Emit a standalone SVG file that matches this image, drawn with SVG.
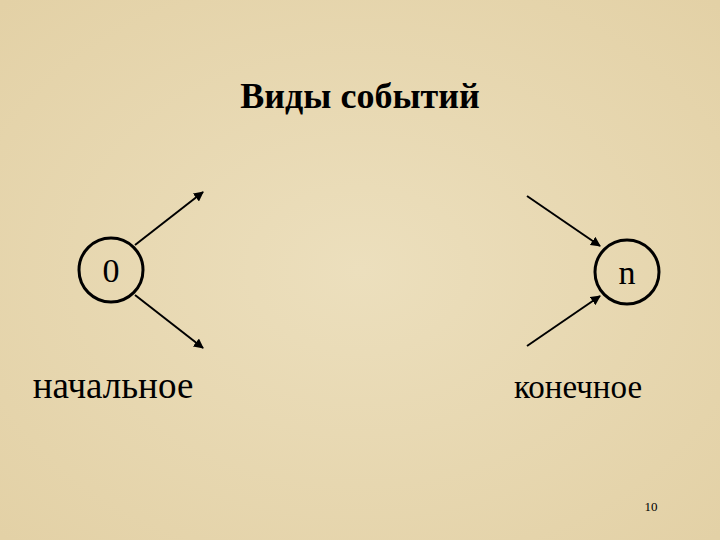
<svg xmlns="http://www.w3.org/2000/svg" width="720" height="540" viewBox="0 0 720 540">
<defs>
<style>
.t{font-family:"Liberation Serif",serif;fill:#000}
.c{fill:none;stroke:#000;stroke-width:3}
.l{stroke:#000;stroke-width:2;marker-end:url(#a)}
</style>
<marker id="a" viewBox="0 0 10 10" refX="9" refY="5" markerWidth="5" markerHeight="5" orient="auto"><path d="M0,0L10,5L0,10z" fill="#000"/></marker>
<radialGradient id="bg" cx="50%" cy="50%" r="70%"><stop offset="0" stop-color="#ecdfbd"/><stop offset="1" stop-color="#e3d1a6"/></radialGradient>
</defs>
<rect width="720" height="540" fill="url(#bg)"/>
<text class="t" x="360" y="108" font-size="36" font-weight="bold" text-anchor="middle">Виды событий</text>
<g id="connectors">
<line class="l" x1="135" y1="245" x2="203" y2="192"/>
<line class="l" x1="135" y1="295" x2="203" y2="348"/>
<line class="l" x1="527" y1="196" x2="600" y2="246"/>
<line class="l" x1="527" y1="346" x2="600" y2="296"/>
</g>
<g id="node0"><circle class="c" cx="111" cy="270" r="32"/><text class="t" x="111" y="282" font-size="34" text-anchor="middle">0</text></g>
<g id="noden"><circle class="c" cx="627" cy="272" r="32"/><text class="t" x="627" y="284" font-size="34" text-anchor="middle">n</text></g>
<text class="t" x="113" y="398" font-size="37" text-anchor="middle">начальное</text>
<text class="t" x="578" y="398" font-size="33" text-anchor="middle">конечное</text>
<text class="t" x="651" y="511" font-size="13" text-anchor="middle">10</text>
</svg>
